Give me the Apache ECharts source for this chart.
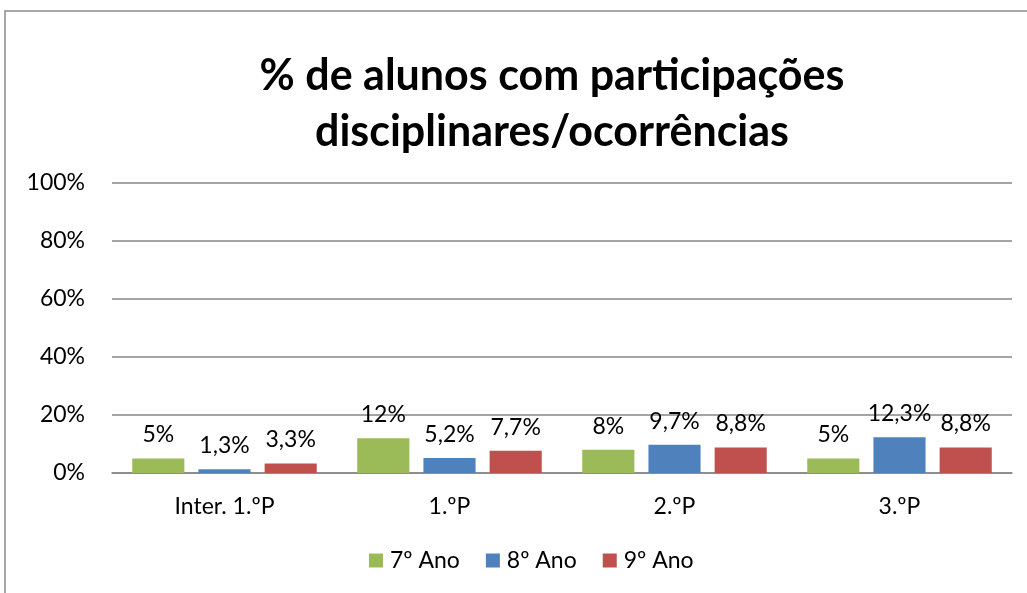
<!DOCTYPE html>
<html>
<head>
<meta charset="utf-8">
<script src="https://cdn.jsdelivr.net/npm/echarts@6/dist/echarts.min.js"></script>
<style>
  html, body { margin: 0; padding: 0; background: #fff; }
  #chart { width: 1027px; height: 593px; }
</style>
</head>
<body>
<div id="chart"></div>
<script>
var categories = ["Inter. 1.ºP", "1.ºP", "2.ºP", "3.ºP"];
var ano7 = [5, 12, 8, 5];
var ano8 = [1.3, 5.2, 9.7, 12.3];
var ano9 = [3.3, 7.7, 8.8, 8.8];
var seriesNames = ["7º Ano", "8º Ano", "9º Ano"];
var yTicks = [0, 20, 40, 60, 80, 100];

var font = "Lato, 'Open Sans', sans-serif";
var colors = ["#9BBB59", "#4F81BD", "#C0504D"];

function fmt(v) {
  return String(v).replace(".", ",") + "%";
}

function makeSeries(name, data, color) {
  return {
    name: name,
    type: "bar",
    data: data,
    barGap: "27%",
    barCategoryGap: "18%",
    itemStyle: { color: color },
    label: {
      show: true,
      position: "top",
      distance: 12,
      fontFamily: font,
      fontSize: 23,
      color: "#000",
      formatter: function (p) { return fmt(p.value); }
    }
  };
}

var chart = echarts.init(document.getElementById("chart"));
chart.setOption({
  animation: false,
  color: colors,
  graphic: [{
    type: "rect",
    shape: { x: 5, y: 11, width: 1200, height: 800 },
    style: { fill: null, stroke: "#8c8c8c", lineWidth: 1.5 },
    silent: true
  }],
  title: {
    text: "% de alunos com participações\ndisciplinares/ocorrências",
    left: 547,
    top: 43,
    textAlign: "center",
    textStyle: {
      fontFamily: font,
      fontWeight: "bold",
      fontSize: 43,
      lineHeight: 56,
      color: "#000"
    }
  },
  legend: {
    data: seriesNames,
    bottom: 16,
    left: 364,
    itemWidth: 14,
    itemHeight: 14,
    itemGap: 26,
    icon: "rect",
    textStyle: { fontFamily: font, fontSize: 23, color: "#000", padding: [0, 0, 0, 2] }
  },
  grid: { left: 112, right: 15, top: 183, bottom: 120 },
  xAxis: {
    type: "category",
    data: categories,
    axisLine: { lineStyle: { color: "#868686", width: 1.5 } },
    axisTick: { show: false },
    axisLabel: { fontFamily: font, fontSize: 23, color: "#000", margin: 22 }
  },
  yAxis: {
    type: "value",
    min: yTicks[0],
    max: yTicks[yTicks.length - 1],
    interval: yTicks[1] - yTicks[0],
    axisLine: { show: false },
    axisTick: { show: false },
    splitLine: { lineStyle: { color: "#868686", width: 1.5 } },
    axisLabel: {
      fontFamily: font,
      fontSize: 23,
      color: "#000",
      margin: 27,
      formatter: "{value}%"
    }
  },
  series: [
    makeSeries(seriesNames[0], ano7, colors[0]),
    makeSeries(seriesNames[1], ano8, colors[1]),
    makeSeries(seriesNames[2], ano9, colors[2])
  ]
});
</script>
</body>
</html>
